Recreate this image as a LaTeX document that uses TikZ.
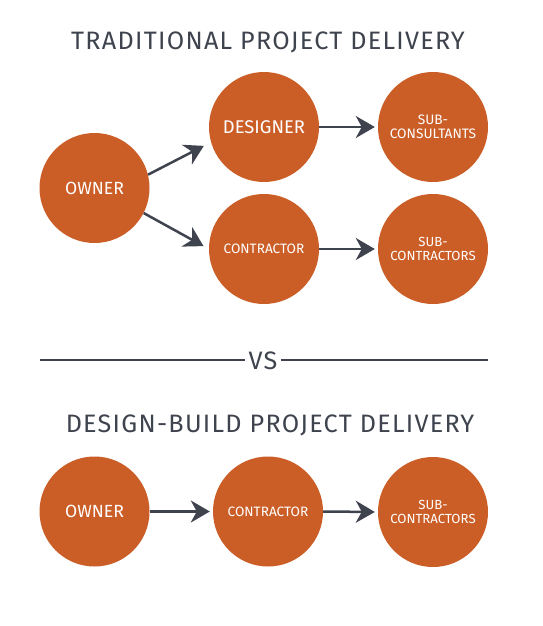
\documentclass[tikz,border=0pt]{standalone}
\usepackage{fontspec}
\setmainfont{Fira Sans}
\newfontfamily\titlefont[LetterSpace=5]{Fira Sans}
\usetikzlibrary{arrows.meta}
\definecolor{rust}{RGB}{203,94,39}
\definecolor{slate}{RGB}{62,67,78}
\begin{document}
\begin{tikzpicture}[x=1pt,y=-1pt,
  disc/.style={circle,fill=rust,minimum size=110pt,inner sep=0pt,text=white,align=center},
  owner/.style={font=\fontsize{17.6}{20}\selectfont},
  designer/.style={font=\fontsize{18.4}{20}\selectfont},
  mid/.style={font=\fontsize{13.6}{16}\selectfont},
  small/.style={font=\fontsize{13.2}{14.3}\selectfont},
  link/.style={draw=slate,line width=2.5pt,shorten >=3pt,-{Stealth[length=19pt,width=22pt,inset=6pt]}},
  heading/.style={text=slate,font=\titlefont\fontsize{25.2}{28}\selectfont,inner sep=0pt},
  rule/.style={draw=slate,line width=2pt}]
\useasboundingbox[fill=white] (0,0) rectangle (543,626);

\node[heading] (t1) at (268,42) {TRADITIONAL PROJECT DELIVERY};
\node[disc,owner] (owA) at (94.5,188) {OWNER};
\node[disc,designer] (des) at (264,127) {DESIGNER};
\node[disc,mid] (conA) at (264,249) {CONTRACTOR};
\node[disc,small,font=\fontsize{13.7}{14.3}\selectfont] (subc) at (433,127) {SUB-\\CONSULTANTS};
\node[disc,small] (subk) at (433,249) {SUB-\\CONTRACTORS};

\draw[link,shorten >=8pt] (owA.14) -- (des.196);
\draw[link,shorten >=6pt] (owA.-27) -- (conA.180);
\draw[link] (des.east) -- (subc.west);
\draw[link] (conA.east) -- (subk.west);

\node[heading,inner xsep=3pt] (vs) at (263,360.5) {VS};
\coordinate (l1) at (40,360);
\coordinate (l2) at (488,360);
\draw[rule] (l1) -- (l1 -| vs.west);
\draw[rule] (vs.east |- l2) -- (l2);

\node[heading] (t2) at (270,425) {DESIGN-BUILD PROJECT DELIVERY};
\node[disc,owner] (owB) at (94.5,511.5) {OWNER};
\node[disc,mid] (conB) at (268,511.5) {CONTRACTOR};
\node[disc,small] (subB) at (433,512) {SUB-\\CONTRACTORS};

\draw[link] (owB.east) -- (conB.west);
\draw[link] (conB.east) -- (subB.west);
\end{tikzpicture}
\end{document}
